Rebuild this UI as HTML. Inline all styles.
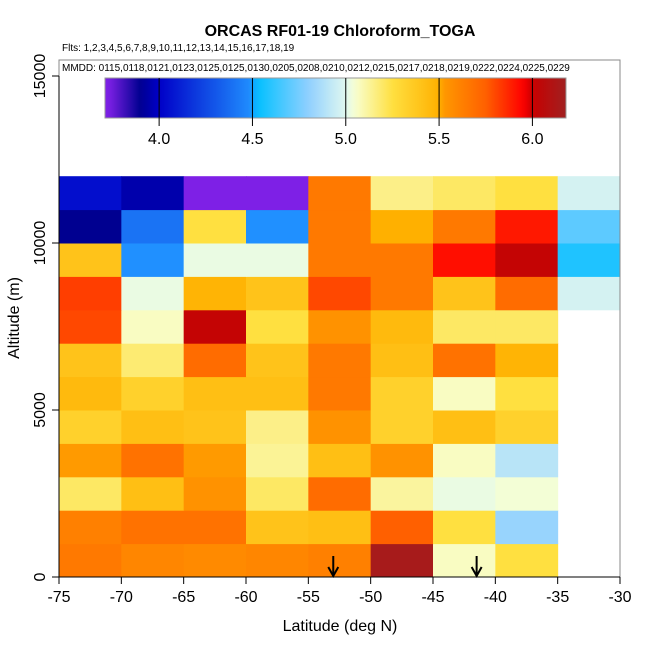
<!DOCTYPE html>
<html><head><meta charset="utf-8"><style>
body{margin:0;background:#fff}
svg{display:block;font-family:"Liberation Sans",sans-serif}
</style></head><body>
<svg id="chart" width="650" height="650" viewBox="0 0 650 650">
<defs>
<linearGradient id="cbar" x1="0" x2="1" y1="0" y2="0"></linearGradient>
</defs>
<text x="340" y="36" text-anchor="middle" font-size="16" font-weight="bold">ORCAS RF01-19 Chloroform_TOGA</text>
<text x="62" y="51" font-size="10">Flts: 1,2,3,4,5,6,7,8,9,10,11,12,13,14,15,16,17,18,19</text>
<text x="62" y="71" font-size="10">MMDD: 0115,0118,0121,0123,0125,0125,0130,0205,0208,0210,0212,0215,0217,0218,0219,0222,0224,0225,0229</text>
<g id="cells"></g>
<g id="frame"></g>
<g id="colorbar"></g>
<g id="axes"></g>
<text x="340" y="631" text-anchor="middle" font-size="16">Latitude (deg N)</text>
<text transform="translate(19,318) rotate(-90)" text-anchor="middle" font-size="16">Altitude (m)</text>
</svg>
<script>
const latEdges=[-75,-70,-65,-60,-55,-50,-45,-40,-35,-30];
const altEdges=[0,1000,2000,3000,4000,5000,6000,7000,8000,9000,10000,11000,12000];
// values per altitude row (0-1k upward), per latitude column; null = no data
const row0=[5.65,5.6,5.58,5.6,5.62,6.15,5.07,5.25,null];
const row1=[5.62,5.68,5.68,5.4,5.42,5.75,5.25,4.82,null];
const row2=[5.2,5.42,5.55,5.2,5.7,5.12,5.02,5.04,null];
const row3=[5.52,5.68,5.52,5.13,5.42,5.55,5.07,4.9,null];
const row4=[5.33,5.42,5.4,5.15,5.55,5.33,5.42,5.33,null];
const row5=[5.45,5.33,5.42,5.42,5.65,5.33,5.07,5.25,null];
const row6=[5.4,5.18,5.7,5.4,5.65,5.42,5.68,5.48,null];
const row7=[5.8,5.07,6.02,5.25,5.55,5.45,5.2,5.2,null];
const row8=[5.82,5.02,5.48,5.4,5.8,5.65,5.4,5.7,4.97];
const row9=[5.4,4.5,5.02,5.02,5.65,5.65,5.92,6.02,4.58];
const row10=[3.9,4.4,5.25,4.5,5.65,5.5,5.65,5.9,4.7];
const row11=[4.05,3.95,3.72,3.72,5.65,5.15,5.2,5.25,4.97];
const rows=[row0,row1,row2,row3,row4,row5,row6,row7,row8,row9,row10,row11];
const xTicks=[-75,-70,-65,-60,-55,-50,-45,-40,-35,-30];
const yTicks=[0,5000,10000,15000];
const cbTicks=[4.0,4.5,5.0,5.5,6.0];
const arrowLats=[-53,-41.5];
const cbMin=3.71, cbMax=6.18;

const NS="http://www.w3.org/2000/svg";
const X=v=>59+(v+75)*(561/45);
const Y=v=>577-v*(501/15000);
const CB=v=>105+(v-cbMin)*(461/(cbMax-cbMin));
const stops=[[3.71,"#8020e8"],[3.73,"#7c20e4"],[3.9,"#000090"],[4.0,"#0000c8"],[4.5,"#2090ff"],[4.52,"#00c0ff"],[4.8,"#90d0ff"],[5.0,"#e0f8f0"],[5.05,"#f8ffd0"],[5.25,"#ffe040"],[5.5,"#ffb000"],[5.51,"#ff9c00"],[5.75,"#ff6000"],[5.95,"#ff0000"],[6.0,"#c80000"],[6.18,"#a02020"]];
function hex(h){return[1,3,5].map(i=>parseInt(h.substr(i,2),16));}
function cmap(v){
 if(v<=stops[0][0])return stops[0][1];
 for(let i=1;i<stops.length;i++){if(v<=stops[i][0]){const a=hex(stops[i-1][1]),b=hex(stops[i][1]);const t=(v-stops[i-1][0])/(stops[i][0]-stops[i-1][0]);return"rgb("+a.map((c,k)=>Math.round(c+(b[k]-c)*t)).join(",")+")";}}
 return stops[stops.length-1][1];}
function mk(tag,attrs,parent){const e=document.createElementNS(NS,tag);for(const k in attrs)e.setAttribute(k,attrs[k]);parent.appendChild(e);return e;}

const cells=document.getElementById('cells');
rows.forEach((r,ri)=>r.forEach((v,ci)=>{if(v==null)return;
 const x0=X(latEdges[ci]),x1=X(latEdges[ci+1]),y0=Y(altEdges[ri+1]),y1=Y(altEdges[ri]);
 const e=mk('rect',{x:x0,y:y0,width:x1-x0+0.5,height:y1-y0+0.5,fill:cmap(v)},cells);
 
 
}));

const fr=document.getElementById('frame');
const box=mk('rect',{x:59,y:60,width:561,height:517,fill:'none',stroke:'#888','stroke-width':1},fr);



const cb=document.getElementById('colorbar');
const g=document.getElementById('cbar');
for(let i=0;i<=80;i++){const v=cbMin+(cbMax-cbMin)*i/80;mk('stop',{offset:(i/80),'stop-color':cmap(v)},g);}
const cbr=mk('rect',{x:105,y:78,width:461,height:40,fill:'url(#cbar)',stroke:'#999'},cb);


cbTicks.forEach(t=>{const x=CB(t);
 mk('line',{x1:x,x2:x,y1:78,y2:126,stroke:'#000','stroke-width':1},cb);
 const tx=mk('text',{x:x,y:144,'text-anchor':'middle','font-size':16},cb);tx.textContent=t.toFixed(1);
 
 
});

const ax=document.getElementById('axes');
mk('line',{x1:59,x2:620,y1:577,y2:577,stroke:'#000'},ax);
mk('line',{x1:59,x2:59,y1:76,y2:577,stroke:'#000'},ax);
xTicks.forEach(t=>{const x=X(t);
 mk('line',{x1:x,x2:x,y1:577,y2:584,stroke:'#000'},ax);
 const tx=mk('text',{x:x,y:602,'text-anchor':'middle','font-size':16},ax);tx.textContent=t;
 
 
});
yTicks.forEach(t=>{const y=Y(t);
 mk('line',{x1:52,x2:59,y1:y,y2:y,stroke:'#000'},ax);
 const tx=mk('text',{transform:`translate(45,${y}) rotate(-90)`,'text-anchor':'middle','font-size':16},ax);tx.textContent=t;
 
 
});
arrowLats.forEach(l=>{const x=X(l);
 const a=mk('g',{},ax);
 
 
 mk('line',{x1:x,x2:x,y1:556,y2:575,stroke:'#000','stroke-width':2},a);
 mk('polyline',{points:`${x-5},567 ${x},576 ${x+5},567`,fill:'none',stroke:'#000','stroke-width':2},a);
});
</script>
</body></html>
